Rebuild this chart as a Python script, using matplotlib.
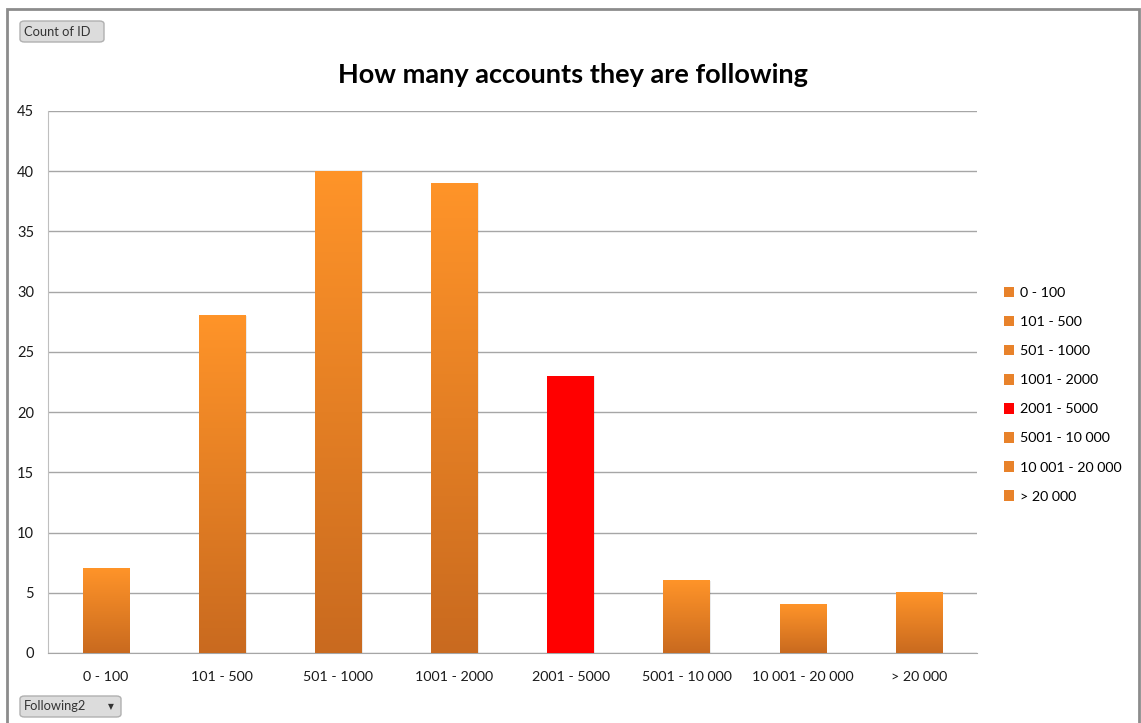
import numpy as np
import matplotlib.pyplot as plt
from matplotlib.patches import FancyBboxPatch, Rectangle
from matplotlib.colors import LinearSegmentedColormap

plt.rcParams['font.family'] = ['Lato', 'DejaVu Sans']

categories = ['0 - 100', '101 - 500', '501 - 1000', '1001 - 2000', '2001 - 5000',
              '5001 - 10 000', '10 001 - 20 000', '> 20 000']
counts = [7, 28, 40, 39, 23, 6, 4, 5]
highlight = '2001 - 5000'

fig = plt.figure(figsize=(11.41, 7.23), dpi=100)
ax = fig.add_axes([48/1141, 70/723, 929/1141, 542/723])

orange_grad = LinearSegmentedColormap.from_list('og', ['#C96A1F', '#FF9429'])
grad = np.linspace(0, 1, 256).reshape(-1, 1)

x = np.arange(len(categories))
w = 0.40
bars = ax.bar(x, counts, width=w, color='none', edgecolor='none', zorder=3)
for b, cat in zip(bars, categories):
    bx, bw, bh = b.get_x(), b.get_width(), b.get_height()
    # faint shadow
    ax.add_patch(Rectangle((bx + 0.01, 0), bw, bh, facecolor='#000000', alpha=0.08,
                           edgecolor='none', zorder=2))
    if cat == highlight:
        ax.add_patch(Rectangle((bx, 0), bw, bh, facecolor='#FF0000', edgecolor='none', zorder=3))
    else:
        ax.imshow(grad, cmap=orange_grad, origin='lower', aspect='auto',
                  extent=[bx, bx + bw, 0, bh], zorder=3)

ax.set_xlim(-0.5, len(categories) - 0.5)
ax.set_ylim(0, 45)
ax.set_yticks(range(0, 46, 5))
ax.set_xticks(x)
ax.set_xticklabels(categories, fontsize=10.3, color='#1a1a1a')
ax.tick_params(axis='y', length=0, pad=10, labelsize=10.5, labelcolor='#1a1a1a')
ax.tick_params(axis='x', length=0, pad=13)
ax.yaxis.grid(True, color='#A6A6A6', linewidth=1)
ax.set_axisbelow(True)
for s in ['top', 'right']:
    ax.spines[s].set_visible(False)
ax.spines['left'].set_color('#BFBFBF')
ax.spines['bottom'].set_color('#A6A6A6')

fig.text(573/1141, 1 - 75/723, 'How many accounts they are following', ha='center', va='center',
         fontsize=19.5, fontweight='bold', color='#000000')

# legend
leg_colors = ['#FF0000' if c == highlight else '#E8822A' for c in categories]
handles = [Rectangle((0, 0), 1, 1, facecolor=c, edgecolor='none') for c in leg_colors]
fig.legend(handles, categories, loc='upper left', bbox_to_anchor=(998/1141, 1 - 281/723),
           frameon=False, fontsize=10.3, handlelength=0.75, handleheight=0.75,
           handletextpad=0.4, labelspacing=1.18, borderaxespad=0)

# outer frame
fig.patches.append(Rectangle((7/1141, -0.01), (1139 - 7)/1141, 1 - 9/723 + 0.01,
                             transform=fig.transFigure, fill=False, edgecolor='#8C8C8C',
                             linewidth=2))

# pivot buttons
def button(x0, y0, wpx, hpx, label, arrow=False):
    fig.patches.append(FancyBboxPatch((x0/1141, 1 - (y0 + hpx)/723), wpx/1141, hpx/723,
                                      boxstyle='round,pad=0,rounding_size=0.004',
                                      transform=fig.transFigure, facecolor='#DCDCDC',
                                      edgecolor='#B0B0B0', linewidth=1))
    fig.text((x0 + 4)/1141, 1 - (y0 + hpx/2)/723, label, ha='left', va='center',
             fontsize=9.3, color='#333333')
    if arrow:
        fig.text((x0 + wpx - 10)/1141, 1 - (y0 + hpx/2)/723, '▼', ha='center', va='center',
                 fontsize=5.5, color='#333333', family='DejaVu Sans')

button(20, 21, 84, 21, 'Count of ID')
button(20, 696, 101, 21, 'Following2', arrow=True)

fig.savefig('out.png', dpi=100)
